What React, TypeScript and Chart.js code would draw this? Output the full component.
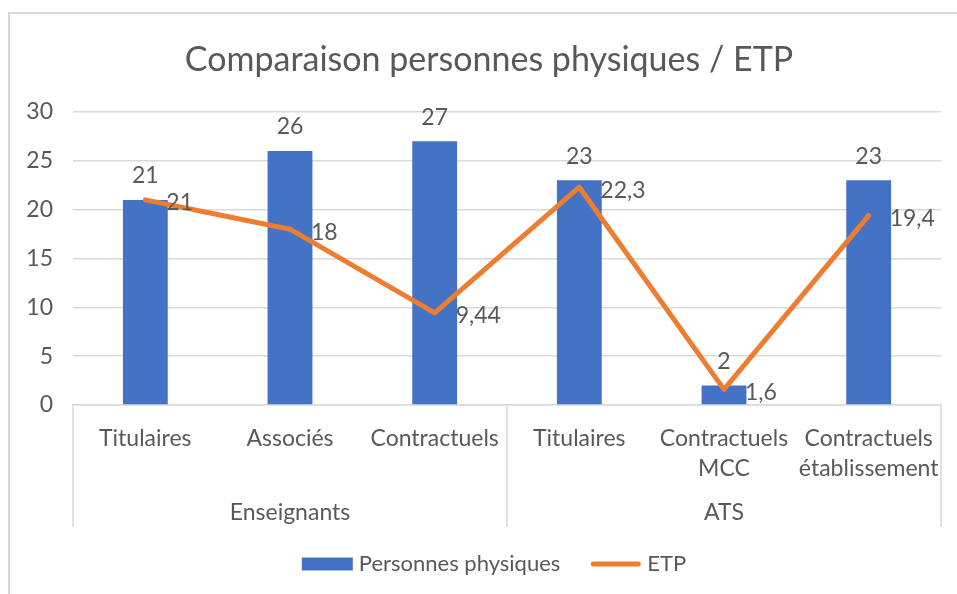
import React, { useEffect, useRef } from "react";
import { Chart, registerables } from "chart.js";

Chart.register(...registerables);

const TITLE = "Comparaison personnes physiques / ETP";
const categories: string[][] = [
  ["Titulaires"],
  ["Associés"],
  ["Contractuels"],
  ["Titulaires"],
  ["Contractuels", "MCC"],
  ["Contractuels", "établissement"],
];
const groupLabels = ["Enseignants", "ATS"];
const groupSizes = [3, 3];
const seriesNames = ["Personnes physiques", "ETP"];
const personnesPhysiques = [21, 26, 27, 23, 2, 23];
const etp = [21, 18, 9.44, 22.3, 1.6, 19.4];
const yMin = 0;
const yMax = 30;
const yStep = 5;

const FONT = 'Lato, "Noto Sans", sans-serif';
const TEXT = "#595959";
const GRID = "#D9D9D9";
const BLUE = "#4472C4";
const ORANGE = "#ED7D31";
const TICK_SIZE = 23;

const fmt = (v: number) => String(v).replace(".", ",");

const decoPlugin = {
  id: "deco",
  beforeDraw(chart: any) {
    const { ctx, width, height } = chart;
    ctx.save();
    ctx.fillStyle = "#ffffff";
    ctx.fillRect(0, 0, width, height);
    ctx.strokeStyle = GRID;
    ctx.lineWidth = 2;
    ctx.strokeRect(9, 13, width + 40, height + 40);
    ctx.fillStyle = TEXT;
    ctx.font = `34px ${FONT}`;
    ctx.textAlign = "center";
    ctx.textBaseline = "middle";
    ctx.fillText(TITLE, 489, 60);
    ctx.restore();
  },
  afterDatasetsDraw(chart: any) {
    const { ctx } = chart;
    ctx.save();
    ctx.fillStyle = TEXT;
    ctx.font = `${TICK_SIZE}px ${FONT}`;
    const barMeta = chart.getDatasetMeta(0);
    ctx.textAlign = "center";
    ctx.textBaseline = "middle";
    barMeta.data.forEach((el: any, i: number) => {
      ctx.fillText(fmt(personnesPhysiques[i]), el.x, el.y - 24);
    });
    const lineMeta = chart.getDatasetMeta(1);
    ctx.textAlign = "left";
    lineMeta.data.forEach((el: any, i: number) => {
      ctx.fillText(fmt(etp[i]), el.x + 21, el.y + 3);
    });
    ctx.restore();
  },
  afterDraw(chart: any) {
    const { ctx } = chart;
    const xs = chart.scales.x;
    const top = xs.top;
    const bottom = xs.bottom;
    ctx.save();
    ctx.strokeStyle = GRID;
    ctx.lineWidth = 1.5;
    // group separators
    const edges: number[] = [xs.left];
    let idx = 0;
    groupSizes.forEach((n, g) => {
      idx += n;
      if (g < groupSizes.length - 1) {
        edges.push((xs.getPixelForValue(idx - 1) + xs.getPixelForValue(idx)) / 2);
      }
    });
    edges.push(xs.right);
    edges.forEach((x) => {
      ctx.beginPath();
      ctx.moveTo(x, top);
      ctx.lineTo(x, bottom);
      ctx.stroke();
    });
    // group labels
    ctx.fillStyle = TEXT;
    ctx.font = `${TICK_SIZE}px ${FONT}`;
    ctx.textAlign = "center";
    ctx.textBaseline = "middle";
    let start = 0;
    groupSizes.forEach((n, g) => {
      const cx = (xs.getPixelForValue(start) + xs.getPixelForValue(start + n - 1)) / 2;
      ctx.fillText(groupLabels[g], cx, bottom - 14);
      start += n;
    });
    // legend
    ctx.font = `22px ${FONT}`;
    const legendY = 564;
    const boxW = 51;
    const gapText = 6;
    const itemGap = 30;
    const widths = seriesNames.map((s) => ctx.measureText(s).width);
    const total = widths.reduce((a, b) => a + b, 0) + seriesNames.length * (boxW + gapText) + itemGap * (seriesNames.length - 1);
    let lx = 494 - total / 2;
    seriesNames.forEach((s, i) => {
      if (i === 0) {
        ctx.fillStyle = BLUE;
        ctx.fillRect(lx, legendY - 6.5, boxW, 13);
      } else {
        ctx.strokeStyle = ORANGE;
        ctx.lineWidth = 5;
        ctx.lineCap = "round";
        ctx.beginPath();
        ctx.moveTo(lx + 3, legendY);
        ctx.lineTo(lx + boxW - 3, legendY);
        ctx.stroke();
      }
      ctx.fillStyle = TEXT;
      ctx.textAlign = "left";
      ctx.fillText(s, lx + boxW + gapText, legendY);
      lx += boxW + gapText + widths[i] + itemGap;
    });
    ctx.restore();
  },
};

export default function App() {
  const ref = useRef<HTMLCanvasElement | null>(null);
  useEffect(() => {
    document.body.style.margin = "0";
    const canvas = ref.current;
    if (!canvas) return;
    const chart = new Chart(canvas, {
      type: "bar",
      data: {
        labels: categories,
        datasets: [
          {
            type: "bar",
            label: seriesNames[0],
            data: personnesPhysiques,
            backgroundColor: BLUE,
            categoryPercentage: 1,
            barPercentage: 0.31,
            order: 2,
          },
          {
            type: "line",
            label: seriesNames[1],
            data: etp,
            borderColor: ORANGE,
            backgroundColor: ORANGE,
            borderWidth: 5,
            pointRadius: 0,
            borderCapStyle: "round",
            borderJoinStyle: "round",
            tension: 0,
            order: 1,
          },
        ],
      } as any,
      options: {
        responsive: false,
        animation: false,
        devicePixelRatio: 1,
        layout: { padding: { top: 112, left: 0, right: 16, bottom: 67 } },
        plugins: {
          legend: { display: false },
          title: { display: false },
          tooltip: { enabled: false },
        },
        scales: {
          x: {
            grid: { display: false },
            border: { color: GRID, width: 1.5 },
            ticks: {
              color: TEXT,
              font: { family: FONT, size: TICK_SIZE, lineHeight: 1.3 },
              padding: 11,
              maxRotation: 0,
              autoSkip: false,
            },
            afterFit: (s: any) => {
              s.height = 122;
            },
          },
          y: {
            min: yMin,
            max: yMax,
            ticks: {
              stepSize: yStep,
              color: TEXT,
              font: { family: FONT, size: TICK_SIZE },
              padding: 20,
            },
            grid: { color: GRID, lineWidth: 1.5, drawTicks: false },
            border: { display: false },
            afterFit: (s: any) => {
              s.width = 73;
            },
          },
        },
      } as any,
      plugins: [decoPlugin],
    });
    return () => chart.destroy();
  }, []);
  return (
    <div style={{ width: 957, height: 594 }}>
      <canvas ref={ref} width={957} height={594} style={{ display: "block" }} />
    </div>
  );
}
